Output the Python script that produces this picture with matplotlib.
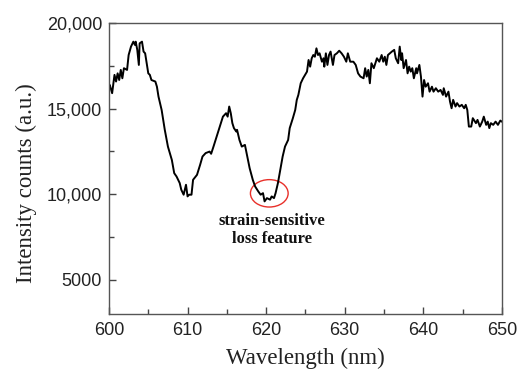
import matplotlib
matplotlib.use("Agg")
import matplotlib.pyplot as plt
from matplotlib.patches import Ellipse
from matplotlib.ticker import MultipleLocator

wavelength = [600.0, 600.1, 600.4, 600.7, 600.9, 601.1, 601.3, 601.5, 601.7, 601.9, 602.3,
              602.5, 602.8, 603.1, 603.3, 603.4, 603.6, 603.8, 603.9, 604.2, 604.4, 604.6,
              604.8, 605.0, 605.2, 605.4, 605.9, 606.1, 606.3, 606.5, 606.7, 607.1, 607.5,
              608.0, 608.3, 608.6, 609.0, 609.2, 609.5, 609.8, 610.0, 610.2, 610.5, 610.7,
              611.2, 611.6, 611.9, 612.3, 612.8, 613.0, 613.3, 613.7, 614.1, 614.5, 614.9,
              615.1, 615.3, 615.5, 615.7, 615.9, 616.2, 616.3, 616.6, 616.9, 617.3, 617.6,
              617.9, 618.3, 618.6, 619.0, 619.3, 619.6, 619.8, 620.1, 620.5, 620.7, 621.0,
              621.2, 621.5, 621.8, 622.1, 622.4, 622.8, 623.0, 623.4, 623.7, 623.9, 624.1,
              624.4, 624.7, 625.2, 625.4, 625.6, 625.8, 626.0, 626.2, 626.4, 626.6, 626.8,
              627.1, 627.3, 627.4, 627.6, 627.8, 628.0, 628.2, 628.5, 628.7, 629.0, 629.3,
              629.6, 629.9, 630.2, 630.4, 630.7, 631.1, 631.4, 631.7, 632.0, 632.4, 632.6,
              632.8, 633.0, 633.2, 633.4, 633.7, 634.1, 634.4, 634.7, 634.9, 635.1, 635.3,
              635.5, 636.0, 636.3, 636.5, 636.8, 637.0, 637.2, 637.3, 637.5, 637.8, 638.0,
              638.2, 638.4, 638.6, 638.8, 639.1, 639.2, 639.5, 639.7, 639.9, 640.1, 640.3,
              640.6, 640.8, 641.1, 641.3, 641.6, 641.9, 642.2, 642.5, 642.6, 642.9, 643.2,
              643.4, 643.6, 643.8, 644.1, 644.3, 644.6, 644.9, 645.2, 645.4, 645.6, 645.8,
              646.1, 646.3, 646.7, 646.9, 647.2, 647.5, 647.7, 648.0, 648.2, 648.4, 648.6,
              648.9, 649.2, 649.5, 649.8, 650.0]

intensity = [16300, 16380, 15900, 16970, 16580, 17060, 16670, 17260, 16770, 17360, 17260,
             18130, 18620, 18910, 18720, 18910, 18430, 17550, 18810, 18910, 18330, 18230,
             17650, 17060, 16970, 16670, 16580, 16280, 15700, 15320, 14920, 13760, 12780,
             12000, 11230, 11030, 10650, 10260, 9970, 10550, 9870, 9970, 9970, 10840,
             11130, 11720, 12200, 12400, 12490, 12360, 12780, 13370, 13950, 14530, 14730,
             14530, 15120, 14730, 14150, 13860, 13660, 13760, 13170, 12780, 12880, 12200,
             11520, 10840, 10450, 10160, 9970, 10060, 9580, 9770, 9680, 9870, 9770,
             10060, 10650, 11420, 12200, 12780, 13170, 13860, 14440, 14920, 15510, 15800,
             16480, 16770, 17160, 17840, 17450, 17940, 18130, 18030, 18520, 18130, 18230,
             17740, 17940, 17450, 18230, 17550, 18130, 18330, 17550, 18130, 18230, 18380,
             18230, 18030, 17740, 18230, 17740, 17740, 17550, 17060, 16870, 16770, 17360,
             16870, 17260, 16480, 17650, 17360, 17940, 17740, 18130, 17740, 18030, 17550,
             18130, 18330, 18430, 17940, 17650, 18620, 17840, 18230, 17360, 17840, 17060,
             17450, 17160, 17360, 16770, 17360, 17060, 17550, 16870, 15700, 16670, 16280,
             16480, 15990, 16280, 15990, 16190, 15990, 16090, 15800, 16190, 15700, 15990,
             15410, 15020, 15510, 15120, 15320, 15120, 15220, 15020, 15220, 14920, 13950,
             13950, 14440, 14150, 14340, 13950, 14240, 14530, 14050, 14240, 13860, 14150,
             14050, 14240, 14050, 14300, 14240]

x_ticks = [600, 610, 620, 630, 640, 650]
y_ticks = [5000, 10000, 15000, 20000]
y_tick_labels = ["5000", "10,000", "15,000", "20,000"]

circle_center = (620.4, 10050)
circle_size = (4.8, 1600)
annotation = "strain-sensitive\nloss feature"
annotation_pos = (620.7, 7900)

fig = plt.figure(figsize=(5.19, 3.71), dpi=100)
ax = fig.add_axes([0.210, 0.1536, 0.757, 0.7844])

ax.plot(wavelength, intensity, color="black", linewidth=1.4)

ax.add_patch(Ellipse(circle_center, circle_size[0], circle_size[1],
                     fill=False, edgecolor="#e8302a", linewidth=1.0))
ax.text(annotation_pos[0], annotation_pos[1], annotation, ha="center", va="center",
        fontsize=12, fontweight="bold", family="Liberation Serif", color="#111111")

ax.set_xlim(600, 650)
ax.set_ylim(3000, 20000)
ax.set_xticks(x_ticks)
ax.set_yticks(y_ticks)
ax.set_yticklabels(y_tick_labels)
ax.xaxis.set_minor_locator(MultipleLocator(5))
ax.set_yticks([7500, 12500, 17500], minor=True)

for lab in ax.get_xticklabels() + ax.get_yticklabels():
    lab.set_family("Liberation Sans")
    lab.set_fontsize(13)
    lab.set_color("#222222")

ax.tick_params(which="both", direction="in", top=False, right=False, color="#444444")
ax.tick_params(which="major", length=5, width=1)
ax.tick_params(which="minor", length=3.5, width=1)
ax.tick_params(axis="x", pad=6)
ax.tick_params(axis="y", pad=5)

for s in ax.spines.values():
    s.set_color("#555555")
    s.set_linewidth(1.0)

ax.set_xlabel("Wavelength (nm)", family="Liberation Serif", fontsize=16.5,
              color="#222222", labelpad=6)
ax.set_ylabel("Intensity counts (a.u.)", family="Liberation Serif", fontsize=16.5,
              color="#222222")
ax.yaxis.set_label_coords(-0.183, 0.45)

fig.savefig("out.png", dpi=100)
